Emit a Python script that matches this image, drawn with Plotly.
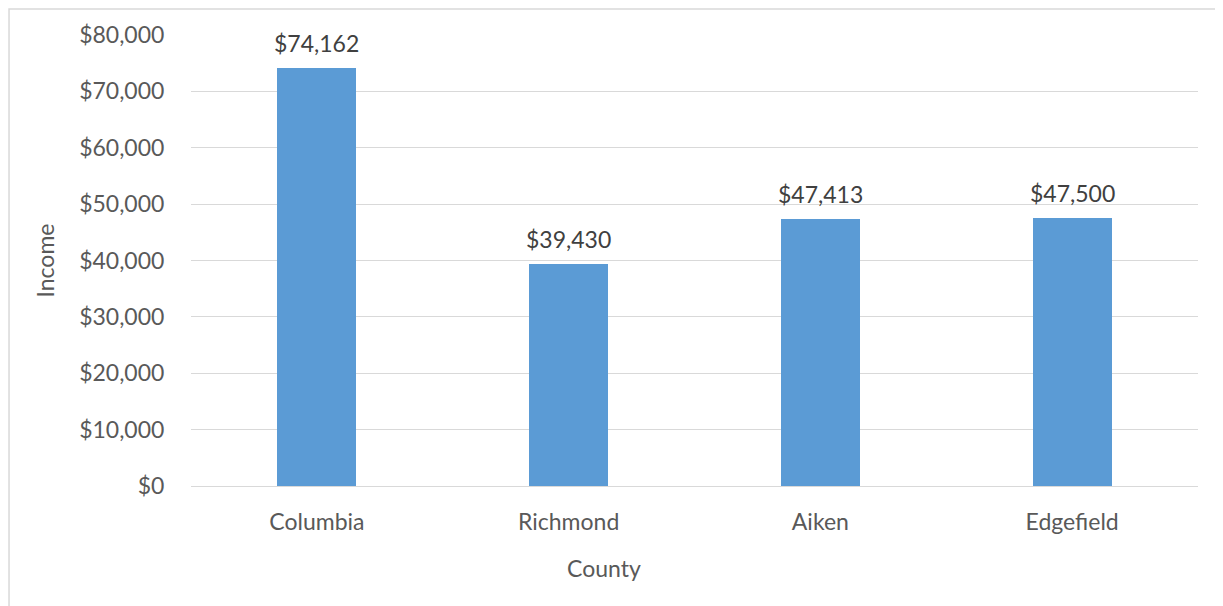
import plotly.graph_objects as go

counties = ["Columbia", "Richmond", "Aiken", "Edgefield"]
income = [74162, 39430, 47413, 47500]
y_ticks = [0, 10000, 20000, 30000, 40000, 50000, 60000, 70000, 80000]
y_tick_labels = ["$0", "$10,000", "$20,000", "$30,000", "$40,000", "$50,000", "$60,000", "$70,000", "$80,000"]

FONT = "Lato"
TXT = "#595959"
FS = 23

fig = go.Figure(
    go.Bar(
        x=counties,
        y=income,
        width=0.314,
        marker=dict(color="#5b9bd5", line=dict(width=0)),
        hoverinfo="x+y",
    )
)

for c, v in zip(counties, income):
    fig.add_annotation(
        x=c, y=v, xref="x", yref="y",
        text=f"${v:,}", showarrow=False,
        yanchor="bottom", yshift=9,
        font=dict(family=FONT, size=FS, color="#404040"),
    )

# x-axis title centred on the whole chart area (as in the reference)
fig.add_annotation(
    x=0.410, y=-0.181, xref="paper", yref="paper",
    text="County", showarrow=False,
    xanchor="center", yanchor="middle",
    font=dict(family=FONT, size=FS, color=TXT),
)

# page has an 8px body margin; offsets compensated below
fig.update_layout(
    width=1223,
    height=606,
    margin=dict(l=183, r=33, t=27, b=128, autoexpand=False),
    paper_bgcolor="white",
    plot_bgcolor="white",
    showlegend=False,
    font=dict(family=FONT, color=TXT, size=FS),
    bargap=0,
    xaxis=dict(
        tickfont=dict(family=FONT, size=FS, color=TXT),
        showgrid=False,
        showline=False,
        ticks="outside",
        tickcolor="rgba(0,0,0,0)",
        ticklen=15,
    ),
    yaxis=dict(
        title=dict(text="Income", font=dict(family=FONT, size=FS, color=TXT), standoff=18),
        range=[0, 80000],
        tickvals=y_ticks,
        ticktext=y_tick_labels,
        tickfont=dict(family=FONT, size=FS, color=TXT),
        showgrid=True,
        gridcolor="#d9d9d9",
        gridwidth=1.3,
        zeroline=True,
        zerolinecolor="#d9d9d9",
        zerolinewidth=1.3,
        showline=False,
        ticks="outside",
        tickcolor="rgba(0,0,0,0)",
        ticklen=21,
    ),
    shapes=[
        dict(
            type="rect", xref="paper", yref="paper",
            x0=-0.1807, x1=1.2, y0=-0.5, y1=1.0576,
            line=dict(color="#d9d9d9", width=1.5),
            fillcolor="rgba(0,0,0,0)", layer="below",
        )
    ],
)

fig.write_html("out.html")
